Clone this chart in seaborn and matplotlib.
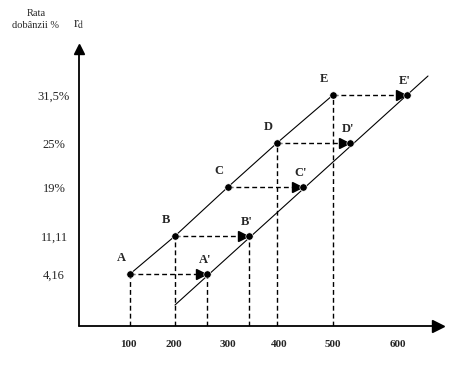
import matplotlib
matplotlib.use('Agg')
import pandas as pd
import matplotlib.pyplot as plt
import seaborn as sns

# puncte pe prima dreapta (A..E) si pe a doua dreapta (A'..E')
names = ['A', 'B', 'C', 'D', 'E']
x_left = [102, 192, 298, 396, 508]
x_right = [256, 340, 448, 542, 656]
y_rate = [52, 90, 139, 183, 231]

# etichete pe axe
rate_labels = ['4,16', '11,11', '19%', '25%', '31,5%']
x_ticks = [98, 190, 298, 400, 508, 638]
x_labels = ['100', '200', '300', '400', '500', '600']

# a doua dreapta e mai lunga decat segmentul dintre puncte
line2_x = [192, 698]
line2_y = [21, 250]

# doar unele puncte au proiectie pe axa orizontala
drop_x = [102, 192, 256, 340, 396, 508]
drop_y = [52, 90, 53, 90, 183, 231]

sns.set_style('white')
plt.rcParams['font.family'] = ['Liberation Serif', 'DejaVu Serif']
plt.rcParams['mathtext.fontset'] = 'stix'

df1 = pd.DataFrame({'x': x_left, 'y': y_rate, 'p': names})
df2 = pd.DataFrame({'x': x_right, 'y': y_rate, 'p': [n + "'" for n in names]})
df_line2 = pd.DataFrame({'x': line2_x, 'y': line2_y})

fig = plt.figure(figsize=(4.59, 3.68), dpi=100)
ax = fig.add_axes([79 / 459, 42 / 368, 364 / 459, 281 / 368])

# dreptele
sns.lineplot(data=df1, x='x', y='y', color='black', lw=0.8, ax=ax, sort=False)
sns.lineplot(data=df_line2, x='x', y='y', color='black', lw=0.8, ax=ax)

# linii punctate orizontale cu sageti
for x0, x1, y in zip(x_left, x_right, y_rate):
    ax.plot([x0, x1 - 10], [y, y], color='black', lw=1, dashes=(3.5, 2.2))
    ax.plot(x1 - 13, y, marker='>', ms=7.5, color='black')

# proiectii pe axa x
for x, y in zip(drop_x, drop_y):
    ax.plot([x, x], [0, y], color='black', lw=1, dashes=(3.5, 2.2))

sns.scatterplot(data=df1, x='x', y='y', color='black', s=28, ax=ax, zorder=5)
sns.scatterplot(data=df2, x='x', y='y', color='black', s=28, ax=ax, zorder=5)

for _, r in df1.iterrows():
    ax.text(r.x - 18, r.y + 16, r.p, ha='center', va='center',
            fontsize=9, fontweight='bold')
for _, r in df2.iterrows():
    ax.text(r.x - 4, r.y + 14, r.p, ha='center', va='center',
            fontsize=9, fontweight='bold')

# axele cu sageti
ax.plot([0, 0], [0, 275], color='black', lw=1.3, clip_on=False)
ax.plot(0, 277, marker='^', ms=7, color='black', clip_on=False)
ax.plot([0, 715], [0, 0], color='black', lw=1.3, clip_on=False)
ax.plot(718, 0, marker='>', ms=8, color='black', clip_on=False)

ax.set_xlim(0, 728)
ax.set_ylim(0, 281)
sns.despine(ax=ax, left=True, bottom=True)
ax.set_xlabel('')
ax.set_ylabel('')

ax.set_xticks(x_ticks)
ax.set_xticklabels(x_labels, fontsize=8, fontweight='bold')
ax.set_yticks(y_rate)
ax.set_yticklabels(rate_labels, fontsize=9, ha='center')
ax.tick_params(axis='x', length=0, pad=10)
ax.tick_params(axis='y', length=0, pad=18)

fig.text(36 / 459, 1 - 13 / 368, 'Rata', ha='center', va='center', fontsize=7.5)
fig.text(36 / 459, 1 - 25 / 368, 'dobânzii %', ha='center', va='center', fontsize=7.5)
fig.text(79 / 459, 1 - 25 / 368, r'r$_{\mathrm{d}}$', ha='center', va='center', fontsize=10)

fig.savefig('out.png', dpi=100)
